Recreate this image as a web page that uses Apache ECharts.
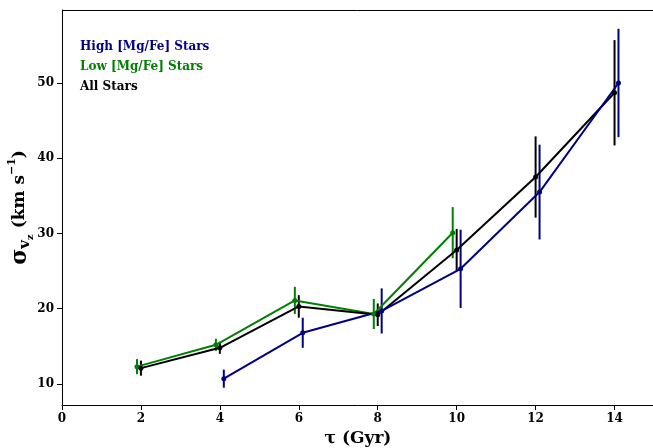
<!DOCTYPE html>
<html>
<head>
<meta charset="utf-8">
<script src="https://cdn.jsdelivr.net/npm/echarts@6/dist/echarts.min.js"></script>
<style>
html,body{margin:0;padding:0;background:#fff;}
#chart{width:653px;height:448px;}
</style>
</head>
<body>
<div id="chart"></div>
<script>
// ages (Gyr), dispersions and errors
var highAge = [4.1, 6.1, 8.1, 10.1, 12.1, 14.1];
var highSig = [10.7, 16.8, 19.7, 25.3, 35.5, 50.0];
var highErr = [1.2, 2.0, 3.0, 5.2, 6.3, 7.2];

var lowAge = [1.9, 3.9, 5.9, 7.9, 9.9];
var lowSig = [12.3, 15.2, 21.1, 19.3, 30.1];
var lowErr = [1.0, 0.8, 1.8, 2.0, 3.4];

var allAge = [2.0, 4.0, 6.0, 8.0, 10.0, 12.0, 14.0];
var allSig = [12.1, 14.8, 20.3, 19.2, 27.8, 37.5, 48.7];
var allErr = [1.0, 0.8, 1.5, 1.5, 2.8, 5.4, 7.0];

var xTicks = [0, 2, 4, 6, 8, 10, 12, 14];
var yTicks = [10, 20, 30, 40, 50];

var FONT = 'DejaVu Serif';

function pts(xs, ys){
  return xs.map(function(x, i){ return [x, ys[i]]; });
}
function errData(xs, ys, es){
  return xs.map(function(x, i){ return [x, ys[i] - es[i], ys[i] + es[i]]; });
}

function lineSeries(name, color, xs, ys){
  return {
    name: name,
    type: 'line',
    data: pts(xs, ys),
    symbol: 'circle',
    symbolSize: 5,
    itemStyle: {color: color},
    lineStyle: {color: color, width: 2},
    z: 3
  };
}
function errSeries(color, xs, ys, es){
  return {
    type: 'custom',
    data: errData(xs, ys, es),
    renderItem: function(params, api){
      var a = api.coord([api.value(0), api.value(1)]);
      var b = api.coord([api.value(0), api.value(2)]);
      return {
        type: 'line',
        shape: {x1: a[0], y1: a[1], x2: b[0], y2: b[1]},
        style: {stroke: color, lineWidth: 2}
      };
    },
    z: 2,
    silent: true
  };
}

var chart = echarts.init(document.getElementById('chart'));
chart.setOption({
  animation: false,
  grid: {left: 62, top: 10, right: -1, bottom: 43, outerBoundsMode: 'none', containLabel: false},
  legend: {
    left: 70, top: 36,
    orient: 'vertical',
    itemWidth: 0, itemHeight: 0, itemGap: 8,
    selectedMode: false,
    textStyle: {fontFamily: FONT, fontWeight: 'bold', fontSize: 12},
    data: [
      {name: 'High [Mg/Fe] Stars', icon: 'rect', textStyle: {color: '#000080'}},
      {name: 'Low [Mg/Fe] Stars', icon: 'rect', textStyle: {color: '#008000'}},
      {name: 'All Stars', icon: 'rect', textStyle: {color: '#000000'}}
    ]
  },
  xAxis: {
    type: 'value', min: 0, max: 15,
    name: 'τ (Gyr)', nameLocation: 'middle', nameGap: 25, nameMoveOverlap: false,
    nameTextStyle: {fontFamily: FONT, fontWeight: 'bold', fontSize: 17, color: '#000'},
    axisLine: {lineStyle: {color: '#000', width: 1}},
    axisTick: {customValues: xTicks, length: 5, lineStyle: {color: '#000'}},
    axisLabel: {customValues: xTicks, color: '#000', fontFamily: FONT, fontWeight: 'bold', fontSize: 12, margin: 8},
    splitLine: {show: false}
  },
  yAxis: {
    type: 'value', min: 7.2, max: 59.7,
    name: '{s|σ}{sub|v}{subsub|z}{n| (km s}{sup|−1}{n|)}',
    nameLocation: 'middle', nameRotate: 90, nameGap: 27, nameMoveOverlap: false,
    nameTextStyle: {
      fontFamily: FONT, fontWeight: 'bold', fontSize: 17, color: '#000',
      rich: {
        s: {fontFamily: FONT, fontWeight: 'bold', fontSize: 22, color: '#000', lineHeight: 30, verticalAlign: 'middle'},
        sub: {fontFamily: FONT, fontWeight: 'bold', fontSize: 15, color: '#000', lineHeight: 30, verticalAlign: 'bottom', padding: [0, 0, 2, 0]},
        subsub: {fontFamily: FONT, fontWeight: 'bold', fontSize: 10, color: '#000', lineHeight: 30, verticalAlign: 'bottom'},
        n: {fontFamily: FONT, fontWeight: 'bold', fontSize: 17, color: '#000', lineHeight: 30, verticalAlign: 'middle'},
        sup: {fontFamily: FONT, fontWeight: 'bold', fontSize: 11, color: '#000', lineHeight: 30, verticalAlign: 'top', padding: [2, 0, 0, 0]}
      }
    },
    axisLine: {show: true, lineStyle: {color: '#000', width: 1}},
    axisTick: {show: true, customValues: yTicks, length: 5, lineStyle: {color: '#000'}},
    axisLabel: {customValues: yTicks, color: '#000', fontFamily: FONT, fontWeight: 'bold', fontSize: 12, margin: 8},
    splitLine: {show: false}
  },
  graphic: [{
    type: 'line', shape: {x1: 62, y1: 10.5, x2: 653, y2: 10.5},
    style: {stroke: '#000', lineWidth: 1}, silent: true
  }],
  series: [
    errSeries('#008000', lowAge, lowSig, lowErr),
    errSeries('#000000', allAge, allSig, allErr),
    errSeries('#000080', highAge, highSig, highErr),
    lineSeries('Low [Mg/Fe] Stars', '#008000', lowAge, lowSig),
    lineSeries('All Stars', '#000000', allAge, allSig),
    lineSeries('High [Mg/Fe] Stars', '#000080', highAge, highSig)
  ]
});
</script>
</body>
</html>
